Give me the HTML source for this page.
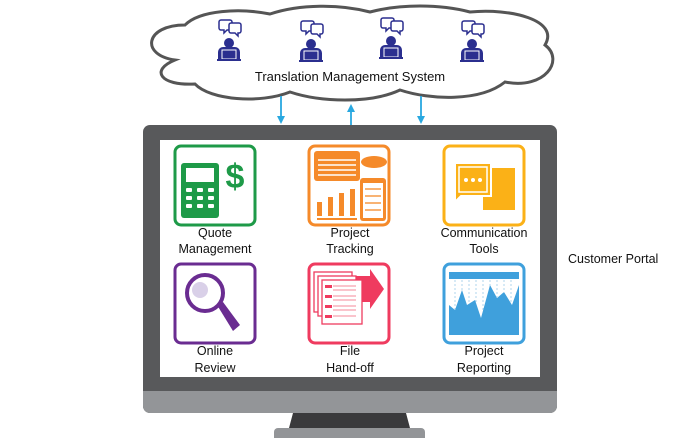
<!DOCTYPE html>
<html><head><meta charset="utf-8"><style>
body{margin:0;background:#fff;}
svg text{font-family:"Liberation Sans",sans-serif;font-size:12.5px;fill:#111;}
</style></head><body>
<svg width="700" height="442" viewBox="0 0 700 442" xmlns="http://www.w3.org/2000/svg">
<defs>
<marker id="ah" markerWidth="8" markerHeight="8" refX="4" refY="4" orient="auto" markerUnits="userSpaceOnUse"><path d="M0,0 L8,4 L0,8 Z" fill="#29a8e0"/></marker>
<g id="person">
 <path d="M-8,-27 h9 a2,2 0 0 1 2,2 v6 a2,2 0 0 1 -2,2 h-3 l-3,3 v-3 h-3 a2,2 0 0 1 -2,-2 v-6 a2,2 0 0 1 2,-2z" fill="#fff" stroke="#2b2f8f" stroke-width="1.5"/>
 <path d="M2,-24 h8 a2,2 0 0 1 2,2 v6 a2,2 0 0 1 -2,2 h-1 v3 l-3,-3 h-4 a2,2 0 0 1 -2,-2 v-6 a2,2 0 0 1 2,-2z" fill="#fff" stroke="#2b2f8f" stroke-width="1.5"/>
 <circle cx="0" cy="-4" r="5" fill="#2b2f8f"/>
 <path d="M-11,12 v-7 a5,5 0 0 1 5,-5 h12 a5,5 0 0 1 5,5 v7z" fill="#2b2f8f"/>
 <rect x="-7" y="3" width="14" height="9" fill="#2b2f8f" stroke="#fff" stroke-width="1"/>
 <rect x="-12" y="12" width="24" height="2" fill="#2b2f8f"/>
</g>
</defs>
<!-- cloud -->
<path d="M175,60 C140,55 145,25 185,25 C200,10 240,8 270,14 C300,4 340,4 370,12 C400,4 440,4 470,12 C510,8 560,20 545,45 C565,60 545,90 505,82 C480,102 430,100 400,90 C370,104 320,102 290,92 C260,104 210,100 195,84 C160,86 150,70 175,60Z" fill="#fff" stroke="#555" stroke-width="3"/>
<use href="#person" x="229" y="47"/>
<use href="#person" x="311" y="48"/>
<use href="#person" x="391" y="45"/>
<use href="#person" x="472" y="48"/>
<text x="350" y="81" text-anchor="middle" style="font-size:13px">Translation Management System</text>
<!-- arrows -->
<line x1="281" y1="96" x2="281" y2="120" stroke="#29a8e0" stroke-width="1.8" marker-end="url(#ah)"/>
<line x1="351" y1="125" x2="351" y2="108" stroke="#29a8e0" stroke-width="1.8" marker-end="url(#ah)"/>
<line x1="421" y1="96" x2="421" y2="120" stroke="#29a8e0" stroke-width="1.8" marker-end="url(#ah)"/>
<!-- monitor -->
<path d="M274,438 v-6 a4,4 0 0 1 4,-4 h143 a4,4 0 0 1 4,4 v6z" fill="#939598"/>
<path d="M293,413 h113 l4,15 h-121z" fill="#3a3a3c"/>
<rect x="143" y="125" width="414" height="288" rx="7" fill="#58595b"/>
<path d="M143,391 h414 v15 a7,7 0 0 1 -7,7 h-400 a7,7 0 0 1 -7,-7z" fill="#939598"/>
<rect x="160" y="140" width="380" height="237" fill="#fff"/>
<text x="568" y="263">Customer Portal</text>
<!-- tiles -->
<g fill="none" stroke-width="3">
<rect x="175" y="146" width="80" height="79" rx="6" stroke="#1e9a48"/>
<rect x="309" y="146" width="80" height="79" rx="6" stroke="#f58a2a"/>
<rect x="444" y="146" width="80" height="79" rx="6" stroke="#fbb117"/>
<rect x="175" y="264" width="80" height="79" rx="6" stroke="#6a2c91"/>
<rect x="309" y="264" width="80" height="79" rx="6" stroke="#ef3b5f"/>
<rect x="444" y="264" width="80" height="79" rx="6" stroke="#3fa0dc"/>
</g>
<!-- quote -->
<rect x="181" y="163" width="38" height="55" rx="3" fill="#1e9a48"/>
<rect x="186" y="168" width="28" height="14" fill="#fff"/>
<g fill="#fff"><rect x="186" y="188" width="6" height="4" rx="1"/><rect x="197" y="188" width="6" height="4" rx="1"/><rect x="208" y="188" width="6" height="4" rx="1"/>
<rect x="186" y="196" width="6" height="4" rx="1"/><rect x="197" y="196" width="6" height="4" rx="1"/><rect x="208" y="196" width="6" height="4" rx="1"/>
<rect x="186" y="204" width="6" height="4" rx="1"/><rect x="197" y="204" width="6" height="4" rx="1"/><rect x="208" y="204" width="6" height="4" rx="1"/></g>
<text x="235" y="188" text-anchor="middle" style="font-size:34px;font-weight:bold;fill:#1e9a48">$</text>
<!-- project tracking -->
<rect x="314" y="151" width="46" height="30" rx="3" fill="#f58a2a"/>
<g stroke="#fff" stroke-width="1.5"><line x1="318" y1="160" x2="356" y2="160"/><line x1="318" y1="165" x2="356" y2="165"/><line x1="318" y1="170" x2="356" y2="170"/><line x1="318" y1="175" x2="356" y2="175"/></g>
<ellipse cx="374" cy="162" rx="13" ry="6" fill="#f58a2a"/>
<rect x="360" y="178" width="26" height="43" rx="3" fill="#f58a2a"/>
<rect x="363" y="183" width="20" height="35" fill="#fff"/>
<g stroke="#f58a2a" stroke-width="1.3"><line x1="365" y1="189" x2="381" y2="189"/><line x1="365" y1="196" x2="381" y2="196"/><line x1="365" y1="203" x2="381" y2="203"/><line x1="365" y1="210" x2="381" y2="210"/></g>
<g fill="#f58a2a"><rect x="317" y="202" width="5" height="14"/><rect x="328" y="197" width="5" height="19"/><rect x="339" y="193" width="5" height="23"/><rect x="350" y="189" width="5" height="27"/><rect x="317" y="218" width="40" height="2"/></g>
<!-- communication -->
<rect x="483" y="168" width="32" height="42" fill="#fbb117"/>
<path d="M455,163 h36 v33 h-30 l-6,6 v-6 z" fill="#fbb117" stroke="#fff" stroke-width="2"/>
<rect x="459" y="167" width="28" height="25" fill="none" stroke="#fff" stroke-width="1.5"/>
<g fill="#fff"><circle cx="466" cy="180" r="2"/><circle cx="473" cy="180" r="2"/><circle cx="480" cy="180" r="2"/></g>
<!-- online review -->
<circle cx="205" cy="293" r="18" fill="#fff" stroke="#6a2c91" stroke-width="4"/>
<circle cx="200" cy="290" r="8" fill="#d9d0e8"/>
<path d="M217,305 l6,-3 l17,23 l-7,6 z" fill="#6a2c91"/>
<!-- file handoff -->
<path d="M350,276 h20 v-7 l14,20 l-14,20 v-7 h-20z" fill="#ef3b5f"/>
<rect x="314" y="272" width="38" height="40" fill="#fff" stroke="#ef3b5f" stroke-width="1.3"/>
<rect x="318" y="276" width="38" height="40" fill="#fff" stroke="#ef3b5f" stroke-width="1.3"/>
<rect x="322" y="280" width="40" height="44" fill="#fff" stroke="#ef3b5f" stroke-width="1.3"/>
<g fill="#ef3b5f"><rect x="325" y="285" width="7" height="3"/><rect x="325" y="295" width="7" height="3"/><rect x="325" y="305" width="7" height="3"/><rect x="325" y="315" width="7" height="3"/></g>
<g stroke="#f58a9a" stroke-width="1"><line x1="333" y1="286" x2="356" y2="286"/><line x1="333" y1="290" x2="356" y2="290"/><line x1="333" y1="296" x2="356" y2="296"/><line x1="333" y1="300" x2="356" y2="300"/><line x1="333" y1="306" x2="356" y2="306"/><line x1="333" y1="310" x2="356" y2="310"/><line x1="333" y1="316" x2="356" y2="316"/></g>
<!-- project reporting -->
<rect x="449" y="272" width="70" height="7" fill="#3fa0dc"/>
<path d="M449,335 V305 L455,310 L462,290 L467,305 L475,300 L481,318 L490,285 L497,298 L504,292 L512,305 L519,285 V335z" fill="#3fa0dc"/>
<g stroke="#9ccbea" stroke-width="0.8" stroke-dasharray="2,2"><line x1="455" y1="280" x2="455" y2="310"/><line x1="462" y1="280" x2="462" y2="292"/><line x1="469" y1="280" x2="469" y2="304"/><line x1="476" y1="280" x2="476" y2="302"/><line x1="483" y1="280" x2="483" y2="312"/><line x1="490" y1="280" x2="490" y2="286"/><line x1="497" y1="280" x2="497" y2="297"/><line x1="504" y1="280" x2="504" y2="293"/><line x1="511" y1="280" x2="511" y2="304"/></g>
<!-- labels -->
<g text-anchor="middle">
<text x="215" y="237">Quote</text><text x="215" y="253">Management</text>
<text x="350" y="237">Project</text><text x="350" y="253">Tracking</text>
<text x="484" y="237">Communication</text><text x="484" y="253">Tools</text>
<text x="215" y="355">Online</text><text x="215" y="372">Review</text>
<text x="350" y="355">File</text><text x="350" y="372">Hand-off</text>
<text x="484" y="355">Project</text><text x="484" y="372">Reporting</text>
</g>
</svg>
</body></html>
